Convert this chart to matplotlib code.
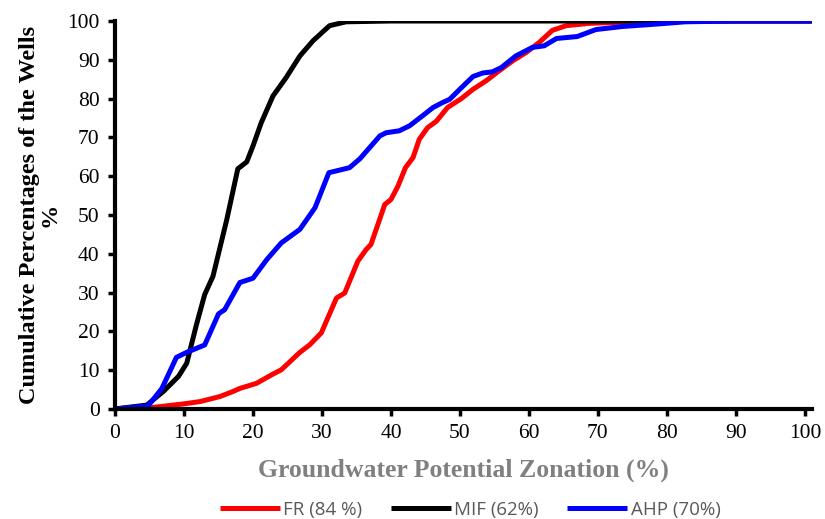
import matplotlib
matplotlib.use('Agg')
import matplotlib.pyplot as plt

# FR curve
fr_x = [0, 5.0, 9.9, 12.3, 15.2, 17.1, 18.1, 20.5, 22.9, 24.1, 26.8, 28.2, 29.9, 32.1, 33.3,
        35.2, 36.4, 37.1, 39.1, 40.0, 41.0, 42.1, 43.2, 44.1, 45.3, 46.6, 48.2, 50.2, 51.9,
        53.8, 55.7, 57.7, 59.6, 61.5, 63.4, 65.4, 68.7, 73.6, 80, 90, 101]
fr_y = [0, 0.3, 1.3, 1.9, 3.2, 4.5, 5.3, 6.6, 9.0, 10.1, 14.6, 16.5, 19.6, 28.6, 29.9,
        38.1, 41.1, 42.4, 52.7, 54.0, 57.4, 62.2, 64.8, 69.5, 72.5, 74.2, 77.7, 80.0, 82.4,
        84.6, 87.2, 89.8, 91.9, 94.5, 97.6, 98.8, 99.4, 99.7, 100, 100, 100]

# MIF curve
mif_x = [0, 4.6, 7.0, 9.2, 10.4, 11.8, 13.0, 14.2, 16.2, 17.8, 19.1, 20.0, 21.2, 22.9,
         24.8, 26.8, 28.7, 31.1, 33.5, 40, 60, 80, 101]
mif_y = [0, 1.0, 4.5, 8.4, 11.8, 21.7, 29.5, 34.2, 48.8, 61.9, 63.7, 67.8, 73.8, 80.7,
         85.4, 91.0, 94.9, 98.8, 99.8, 100, 100, 100, 100]

# AHP curve
ahp_x = [0, 4.8, 6.8, 8.9, 10.4, 13.0, 15.0, 15.9, 18.1, 20.0, 22.0, 24.1, 26.8, 29.0,
         31.0, 34.0, 35.5, 38.4, 39.3, 41.2, 42.7, 44.6, 46.1, 47.5, 48.5, 50.2, 51.9,
         53.3, 54.7, 56.0, 58.1, 60.5, 62.2, 64.0, 67.0, 69.7, 73.6, 78.4, 82.7, 90, 101]
ahp_y = [0, 0.8, 5.3, 13.3, 14.6, 16.5, 24.5, 25.6, 32.6, 33.7, 38.5, 42.8, 46.3, 51.9,
         60.9, 62.2, 64.5, 70.4, 71.2, 71.7, 73.0, 75.6, 77.7, 79.0, 79.8, 82.8, 85.7,
         86.6, 86.9, 88.0, 91.0, 93.2, 93.6, 95.5, 96.0, 97.8, 98.6, 99.2, 99.8, 100, 100]

labels = ['FR (84 %)', 'MIF (62%)', 'AHP (70%)']
colors = ['#FF0000', '#000000', '#0000FF']

fig = plt.figure(figsize=(8.25, 5.19), dpi=100)
ax = fig.add_axes([0.1394, 0.212, 0.8446, 0.7475])

lines = []
for xs, ys, lab, c in zip([fr_x, mif_x, ahp_x], [fr_y, mif_y, ahp_y], labels, colors):
    ln, = ax.plot(xs, ys, color=c, linewidth=3.6, label=lab, solid_capstyle='butt')
    lines.append(ln)

ax.set_xlim(0, 101)
ax.set_ylim(0, 100)
ax.set_xticks(range(0, 101, 10))
ax.set_yticks(range(0, 101, 10))

for side in ['top', 'right']:
    ax.spines[side].set_visible(False)
for side in ['left', 'bottom']:
    ax.spines[side].set_linewidth(3)

ax.tick_params(axis='both', direction='out', length=5, width=2.5, labelsize=15.5, pad=6)
for lbl in ax.get_xticklabels() + ax.get_yticklabels():
    lbl.set_fontfamily('Liberation Serif')

ax.set_xlabel('Groundwater Potential Zonation (%)', fontsize=18.5, fontweight='bold',
              fontfamily='Liberation Serif', color='#808080', labelpad=11)
ax.set_ylabel('Cumulative Percentages of the Wells\n%', fontsize=17.5, fontweight='bold',
              fontfamily='Liberation Serif', linespacing=0.95, labelpad=5)

fig.legend(handles=lines, loc='center', bbox_to_anchor=(0.57, 0.018), ncol=3, frameon=False,
           prop={'family': 'Open Sans', 'size': 13.5}, labelcolor='#595959',
           handlelength=3.2, handletextpad=0.2, columnspacing=1.5)

plt.savefig('out.png', dpi=100, facecolor='white')
